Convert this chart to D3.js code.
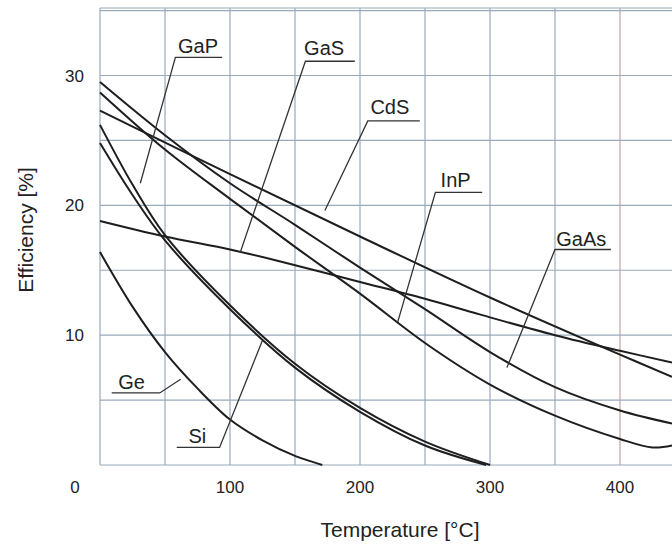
<!DOCTYPE html>
<html lang="en">
<head>
<meta charset="UTF-8">
<title>Efficiency vs temperature</title>
<style>
  body { margin: 0; background: #fff; }
  svg text { font-family: 'Liberation Sans', Arial, sans-serif; fill: #222; }
</style>
</head>
<body>
<svg id="chart" width="672" height="548"></svg>
<script src="https://d3js.org/d3.v7.min.js"></script>
<script>
// curve data (temperature in °C, efficiency in %)
const geT = [0, 25, 50, 75, 100, 125, 150, 171];
const geE = [16.4, 12.2, 8.7, 5.9, 3.5, 1.9, 0.7, 0];
const siT = [0, 25, 50, 100, 150, 200, 250, 300];
const siE = [26.2, 21.6, 17.7, 12.3, 7.8, 4.4, 1.8, 0];
const gapT = [0, 25, 50, 100, 150, 200, 250, 297];
const gapE = [24.8, 20.8, 17.3, 12.0, 7.5, 4.1, 1.5, 0];
const gasT = [0, 50, 100, 138, 200, 250, 292, 350, 400, 440];
const gasE = [18.8, 17.6, 16.6, 15.7, 14.1, 12.8, 11.6, 10.0, 8.8, 7.9];
const cdsT = [0, 100, 200, 300, 400, 440];
const cdsE = [27.3, 22.4, 17.6, 12.9, 8.5, 6.8];
const gaasT = [0, 50, 100, 150, 200, 250, 300, 350, 400, 440];
const gaasE = [29.5, 25.4, 21.7, 18.5, 15.2, 12.0, 8.7, 6.0, 4.2, 3.2];
const inpT = [0, 50, 100, 150, 200, 250, 300, 350, 400, 425, 440];
const inpE = [28.7, 24.3, 20.5, 16.8, 13.2, 9.4, 6.2, 3.8, 2.0, 1.35, 1.5];

const seriesNames = ['Ge', 'Si', 'GaP', 'GaS', 'CdS', 'GaAs', 'InP'];
const seriesT = [geT, siT, gapT, gasT, cdsT, gaasT, inpT];
const seriesE = [geE, siE, gapE, gasE, cdsE, gaasE, inpE];

// label text position [T, E], underline start/end [T, E], leader target [T, E]
const labelPos = [[14, 5.85], [68, 1.7], [60, 31.7], [157, 31.6], [208, 27.0], [351, 16.9], [262, 21.4]];
const lineStart = [[46, 5.55], [92, 1.35], [58, 31.4], [158, 31.1], [206, 26.5], [350, 16.6], [258, 21.0]];
const lineEnd = [[9, 5.55], [59, 1.35], [94, 31.4], [196, 31.1], [246, 26.5], [393, 16.6], [294, 21.0]];
const leaderTo = [[62, 6.6], [125, 9.6], [31, 21.7], [108, 16.4], [173, 19.6], [313, 7.5], [229, 11.0]];

const xTicks = [0, 100, 200, 300, 400];
const yTicks = [10, 20, 30];

const svg = d3.select('#chart');
const x = d3.scaleLinear().domain([0, 440]).range([100, 672]);
const y = d3.scaleLinear().domain([0, 35.2]).range([465, 8]);

// grid
const grid = svg.append('g');
grid.selectAll('.vg').data(d3.range(0, 450, 50)).enter().append('line')
  .attr('x1', d => x(d)).attr('x2', d => x(d))
  .attr('y1', y(0)).attr('y2', y(35.2))
  .attr('stroke', d => d === 400 ? '#c9a0a4' : '#98aabb').attr('stroke-width', 1.2);
grid.selectAll('.hg').data(d3.range(0, 40, 5)).enter().append('line')
  .attr('x1', x(0)).attr('x2', 672)
  .attr('y1', d => y(d)).attr('y2', d => y(d))
  .attr('stroke', '#98aabb').attr('stroke-width', 1.2);
grid.append('line').attr('x1', x(0)).attr('x2', 672).attr('y1', y(35.2)).attr('y2', y(35.2))
  .attr('stroke', '#98aabb').attr('stroke-width', 1.2);

// curves
const line = d3.line().x(d => x(d[0])).y(d => y(d[1])).curve(d3.curveCatmullRom.alpha(0.5));
svg.append('g').selectAll('path').data(seriesNames).enter().append('path')
  .attr('d', (n, i) => line(d3.zip(seriesT[i], seriesE[i])))
  .attr('fill', 'none').attr('stroke', '#1e1e1e').attr('stroke-width', 2);

// labels with leaders
const ann = svg.append('g');
seriesNames.forEach((n, i) => {
  ann.append('text').attr('x', x(labelPos[i][0])).attr('y', y(labelPos[i][1]))
    .attr('font-size', 20).text(n);
  ann.append('polyline')
    .attr('points', [lineEnd[i], lineStart[i], leaderTo[i]].map(p => x(p[0]) + ',' + y(p[1])).join(' '))
    .attr('fill', 'none').attr('stroke', '#333').attr('stroke-width', 1.3);
});

// axis labels
svg.append('g').selectAll('text').data(xTicks).enter().append('text')
  .attr('x', d => d === 0 ? x(d) - 25 : x(d)).attr('y', 493)
  .attr('text-anchor', 'middle').attr('font-size', 17).text(d => d);
svg.append('g').selectAll('text').data(yTicks).enter().append('text')
  .attr('x', 84).attr('y', d => y(d) + 6)
  .attr('text-anchor', 'end').attr('font-size', 17).text(d => d);

svg.append('text').attr('x', 400).attr('y', 537).attr('text-anchor', 'middle')
  .attr('font-size', 21).text('Temperature [°C]');
svg.append('text').attr('transform', 'translate(33,230) rotate(-90)').attr('text-anchor', 'middle')
  .attr('font-size', 21).text('Efficiency [%]');
</script>
</body>
</html>
